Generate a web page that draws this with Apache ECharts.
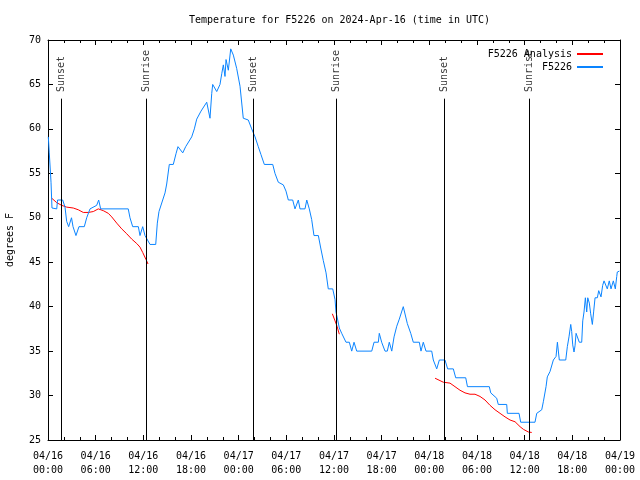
<!DOCTYPE html>
<html>
<head>
<meta charset="utf-8">
<script src="https://cdn.jsdelivr.net/npm/echarts@6/dist/echarts.min.js"></script>
<style>html,body{margin:0;padding:0;background:#fff}#c{width:640px;height:480px}</style>
</head>
<body>
<div id="c"></div>
<script>
// hours since 2024-04-16 00:00 UTC
const blueHours = [0.04,0.16,0.38,0.5,1.1,1.2,1.85,2.14,2.35,2.6,2.96,3.15,3.52,3.9,4.57,4.87,5.29,6.13,6.38,6.63,10.1,10.32,10.66,11.37,11.58,11.92,12.21,12.42,12.84,13.56,13.76,13.97,14.44,14.73,14.94,15.27,15.77,16.11,16.36,16.96,17.33,18.09,18.42,18.72,19.26,19.98,20.39,20.61,20.73,21.24,21.65,21.87,22.07,22.28,22.41,22.7,23.0,23.33,23.75,24.17,24.58,25.21,25.64,26.06,26.47,26.81,27.23,28.29,28.57,28.99,29.62,29.96,30.25,30.8,31.09,31.51,31.72,32.35,32.57,32.89,33.19,33.48,34.03,34.33,34.65,35.0,35.28,35.84,36.13,36.25,36.47,36.67,36.97,37.51,37.93,38.23,38.52,38.86,39.27,40.75,41.04,41.58,41.7,42.0,42.42,42.71,42.96,43.27,43.56,43.9,44.22,44.72,45.23,45.66,45.98,46.74,46.95,47.24,47.58,48.3,48.5,48.93,49.26,49.97,50.31,51.02,51.32,52.58,52.8,55.55,55.73,56.48,56.68,57.74,57.82,59.29,59.5,61.3,61.52,62.15,62.35,62.69,62.85,63.19,63.61,63.95,64.12,64.36,65.17,65.37,65.58,65.8,65.92,66.05,66.21,66.34,66.47,66.68,66.88,67.18,67.31,67.47,67.64,67.81,67.94,68.14,68.31,68.52,68.69,68.86,69.15,69.32,69.61,69.82,69.99,70.24,70.4,70.65,70.87,71.16,71.41,71.59,71.66,71.92];
const blueTemps = [59.1,57.3,54,51.1,51,52,52,51.2,49.6,49,50,49,48,49,49,50,51,51.4,52,51,51,50,49,49,48,49,48,48,47,47,49.4,50.7,52,52.8,53.8,56,56,57.2,58,57.3,58,59.1,60,61.1,62,63,61.2,64,65,64.2,65,66.2,67.2,65.9,67.8,66.6,69,68.3,66.8,64.8,61.2,61,60,59.1,58,57.1,56,56,55,54,53.7,53,52,52,51,52,51,51,52,51,49.8,48,48,46.6,45.2,43.8,42,42,40.8,39.4,38.5,37.6,37,36,36,35,36,35,35,35,36,36,37,36,35,35,36,35,36.6,37.8,38.6,40,38.1,37,36,36,35,36,35,35,34,33,34,34,33,33,32,32,31,31,30.3,29.7,29,29,28,28,27,27,28,28.4,29.3,31,32.1,32.7,34,34.4,36,34,34,35.5,36.6,38,37.2,35.7,34.9,35.6,37,37,36,36,38.4,39.4,41,39.4,41,40.4,39.2,38,39.5,41,41,41.8,41.1,42.4,42.9,42.9,42,42.9,42,42.9,42,43.4,43.9,44];

const analysisHours1 = [0.47,1.1,1.72,2.35,3.18,3.81,4.44,5.07,5.7,6.33,6.96,7.59,8.02,8.65,9.28,9.91,10.54,11.17,11.58,11.92,12.34,12.59];
const analysisTemps1 = [52.2,51.7,51.4,51.2,51.1,50.9,50.6,50.6,50.7,51,50.8,50.5,50.1,49.4,48.75,48.2,47.6,47.1,46.7,46.1,45.3,44.8];
const analysisHours2 = [35.79,36.13,36.38,36.67];
const analysisTemps2 = [39.2,38.4,37.8,36.9];
const analysisHours3 = [48.72,49.76,50.6,51.23,51.86,52.49,53.12,53.75,54.38,55.01,55.64,56.27,56.9,57.53,58.16,58.79,59.42,59.84,60.47,60.89];
const analysisTemps3 = [31.95,31.5,31.4,31,30.6,30.3,30.15,30.15,29.9,29.5,28.9,28.4,28,27.6,27.25,27.05,26.5,26.2,25.9,25.85];

const sunHours = [1.67,12.37,25.84,36.34,49.89,60.59];
const sunNames = ['Sunset','Sunrise','Sunset','Sunrise','Sunset','Sunrise'];

const yTicks = [25,30,35,40,45,50,55,60,65,70];
const xTickDates = ['04/16','04/16','04/16','04/16','04/17','04/17','04/17','04/17','04/18','04/18','04/18','04/18','04/19'];
const xTickTimes = ['00:00','06:00','12:00','18:00','00:00','06:00','12:00','18:00','00:00','06:00','12:00','18:00','00:00'];

const FONT = 'DejaVu Sans Mono';
const zip = (a, b) => a.map((v, i) => [v, b[i]]);

const chart = echarts.init(document.getElementById('c'), null, {renderer: 'canvas'});
const baseX = {
  type: 'value', min: 0, max: 72, interval: 6,
  splitLine: {show: false},
  axisLine: {show: true, onZero: false, lineStyle: {color: '#000', width: 1}},
  axisTick: {show: true, inside: true, length: 5, lineStyle: {color: '#000'}},
  minorTick: {show: true, splitNumber: 3, length: 3, lineStyle: {color: '#000'}},
  minorSplitLine: {show: false}
};
const baseY = {
  type: 'value', min: 25, max: 70, interval: 5,
  splitLine: {show: false},
  axisLine: {show: true, onZero: false, lineStyle: {color: '#000', width: 1}},
  axisTick: {show: true, inside: true, length: 5, lineStyle: {color: '#000'}}
};
const lineCommon = {type: 'line', symbol: 'none', showSymbol: false, animation: false, z: 3};
const option = {
  animation: false,
  backgroundColor: '#fff',
  title: {
    text: 'Temperature for F5226 on 2024-Apr-16 (time in UTC)',
    left: 184, top: 10,
    textStyle: {fontFamily: FONT, fontSize: 10, fontWeight: 'normal', color: '#000'}
  },
  legend: {
    data: ['F5226 Analysis', 'F5226'],
    orient: 'vertical', align: 'right',
    right: 31, top: 44,
    itemWidth: 26, itemHeight: 10, itemGap: 3,
    itemStyle: {opacity: 0, borderWidth: 0},
    textStyle: {fontFamily: FONT, fontSize: 10, color: '#000', padding: [0, 0, 0, 0]},
    selectedMode: false
  },
  grid: {left: 48, right: 20, top: 40, bottom: 40, containLabel: false, outerBoundsMode: 'none'},
  xAxis: [
    Object.assign({}, baseX, {
      position: 'bottom',
      axisLabel: {
        fontFamily: FONT, fontSize: 10, color: '#000', margin: 9, lineHeight: 14,
        formatter: v => { const i = Math.round(v / 6); return xTickDates[i] + '\n' + xTickTimes[i]; }
      }
    }),
    Object.assign({}, baseX, {position: 'top', axisLabel: {show: false}})
  ],
  yAxis: [
    Object.assign({}, baseY, {
      position: 'left',
      name: 'degrees F', nameLocation: 'middle', nameRotate: 90, nameGap: 33,
      nameTextStyle: {fontFamily: FONT, fontSize: 10, color: '#000'},
      axisLabel: {fontFamily: FONT, fontSize: 10, color: '#000', margin: 7,
        formatter: v => yTicks.indexOf(v) >= 0 ? String(v) : ''}
    }),
    Object.assign({}, baseY, {position: 'right', axisLabel: {show: false}})
  ],
  series: [
    Object.assign({}, lineCommon, {name: 'F5226 Analysis', data: zip(analysisHours1, analysisTemps1), lineStyle: {color: '#ff0000', width: 1}, itemStyle: {color: '#ff0000'}}),
    Object.assign({}, lineCommon, {name: 'F5226 Analysis', data: zip(analysisHours2, analysisTemps2), lineStyle: {color: '#ff0000', width: 1}, itemStyle: {color: '#ff0000'}}),
    Object.assign({}, lineCommon, {name: 'F5226 Analysis', data: zip(analysisHours3, analysisTemps3), lineStyle: {color: '#ff0000', width: 1}, itemStyle: {color: '#ff0000'}}),
    Object.assign({}, lineCommon, {name: 'F5226', data: zip(blueHours, blueTemps), lineStyle: {color: '#0a84ff', width: 1}, itemStyle: {color: '#0a84ff'}}),
    {
      name: 'sun', type: 'scatter', symbolSize: 0, animation: false, z: 2,
      data: sunHours.map((h, i) => [h, 64.15, sunNames[i]]),
      label: {
        show: true, position: [0, 0], align: 'left', verticalAlign: 'middle', rotate: 90,
        fontFamily: FONT, fontSize: 10, color: '#000',
        formatter: p => p.value[2]
      },
      markLine: {
        silent: true, symbol: 'none', animation: false,
        label: {show: false},
        lineStyle: {color: '#000', width: 1, type: 'solid'},
        data: sunHours.map(h => [{coord: [h, 63.4]}, {coord: [h, 25]}])
      }
    }
  ]
};
chart.setOption(option);
</script>
</body>
</html>
